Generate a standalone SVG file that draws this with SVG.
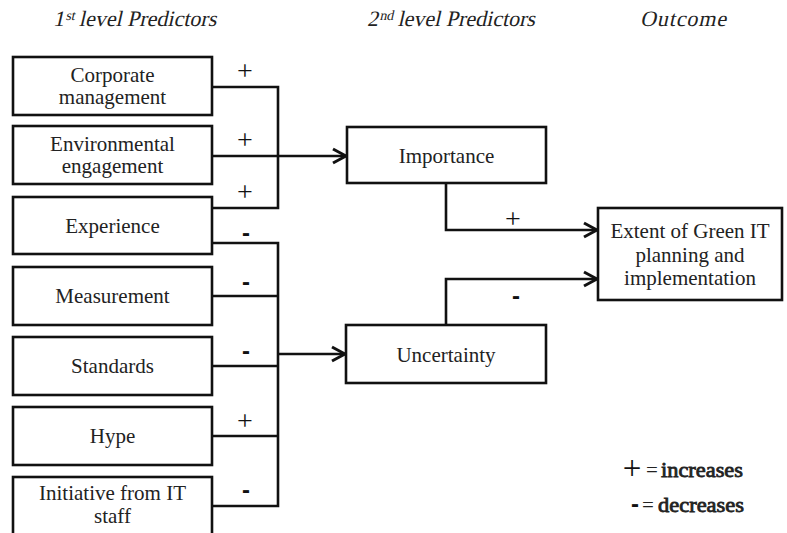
<svg xmlns="http://www.w3.org/2000/svg" width="787" height="533" viewBox="0 0 787 533">
<style>
.box{fill:#fff;stroke:#111;stroke-width:2.6}
.t{font-family:"Liberation Serif",serif;font-size:21px;fill:#222;text-anchor:middle}
.h{font-family:"Liberation Serif",serif;font-size:22px;fill:#222}
.c{fill:none;stroke:#111;stroke-width:2.6}
.p{font-family:"Liberation Serif",serif;font-size:28px;fill:#111;text-anchor:middle}
.m{font-family:"Liberation Sans",sans-serif;font-size:24px;font-weight:bold;fill:#111;text-anchor:middle}
.l{font-family:"Liberation Serif",serif;font-size:21px;fill:#222}
.b{stroke:#222;stroke-width:0.8}
</style>
<defs>
<marker id="ah" markerUnits="userSpaceOnUse" markerWidth="18" markerHeight="18" refX="15" refY="9" orient="auto">
<path d="M2,2 L15,9 L2,16" fill="none" stroke="#111" stroke-width="3"/>
</marker>
</defs>
<rect width="787" height="533" fill="#fff"/>
<g id="headers">
<g transform="translate(53,26) skewX(-13)"><text class="h" x="0" y="0">1<tspan font-size="14" dy="-6">st</tspan><tspan dy="6"> level Predictors</tspan></text></g>
<g transform="translate(367,26) skewX(-13)"><text class="h" x="0" y="0">2<tspan font-size="14" dy="-6">nd</tspan><tspan dy="6"> level Predictors</tspan></text></g>
<g transform="translate(640,26) skewX(-13)"><text class="h" x="0" y="0" textLength="86" lengthAdjust="spacing">Outcome</text></g>
</g>
<g id="connectors">
<path class="c" d="M212,87 H278 V208 H212"/>
<path class="c" d="M212,156 H346" marker-end="url(#ah)"/>
<path class="c" d="M212,243 H278 V506 H212 M212,296 H278 M212,366 H278 M212,436 H278"/>
<path class="c" d="M278,354 H345" marker-end="url(#ah)"/>
<path class="c" d="M446,183 V230 H597" marker-end="url(#ah)"/>
<path class="c" d="M446,325 V279 H597" marker-end="url(#ah)"/>
</g>
<g id="signs">
<text class="p" x="245" y="80">+</text>
<text class="p" x="245" y="149">+</text>
<text class="p" x="245" y="201">+</text>
<text class="m" x="246" y="241">-</text>
<text class="m" x="246" y="290">-</text>
<text class="m" x="246" y="359">-</text>
<text class="p" x="245" y="430">+</text>
<text class="m" x="246" y="498">-</text>
<text class="p" x="513" y="228">+</text>
<text class="m" x="516" y="304">-</text>
</g>
<g id="corporate"><rect class="box" x="13" y="57" width="199" height="58"/><text class="t" x="112.5" y="82">Corporate</text><text class="t" x="112.5" y="104">management</text></g>
<g id="environmental"><rect class="box" x="13" y="126" width="199" height="58"/><text class="t" x="112.5" y="151">Environmental</text><text class="t" x="112.5" y="173">engagement</text></g>
<g id="experience"><rect class="box" x="13" y="197" width="199" height="57"/><text class="t" x="112.5" y="233">Experience</text></g>
<g id="measurement"><rect class="box" x="13" y="267" width="199" height="58"/><text class="t" x="112.5" y="303">Measurement</text></g>
<g id="standards"><rect class="box" x="13" y="337" width="199" height="58"/><text class="t" x="112.5" y="373">Standards</text></g>
<g id="hype"><rect class="box" x="13" y="407" width="199" height="58"/><text class="t" x="112.5" y="443">Hype</text></g>
<g id="initiative"><rect class="box" x="13" y="477" width="199" height="58"/><text class="t" x="112.5" y="500">Initiative from IT</text><text class="t" x="112.5" y="523">staff</text></g>
<g id="importance"><rect class="box" x="347" y="127" width="199" height="56"/><text class="t" x="446.5" y="163">Importance</text></g>
<g id="uncertainty"><rect class="box" x="346" y="325" width="200" height="58"/><text class="t" x="446" y="362">Uncertainty</text></g>
<g id="outcome"><rect class="box" x="598" y="208" width="184" height="92"/><text class="t" x="690" y="238">Extent of Green IT</text><text class="t" x="690" y="262">planning and</text><text class="t" x="690" y="285">implementation</text></g>
<g id="legend">
<text class="p" x="632" y="479" style="font-size:33px">+</text>
<text class="l" x="646" y="477">=</text>
<text class="l b" x="661" y="477" textLength="82" lengthAdjust="spacingAndGlyphs">increases</text>
<text class="m" x="635" y="512">-</text>
<text class="l" x="642" y="512">=</text>
<text class="l b" x="658" y="512" textLength="86" lengthAdjust="spacingAndGlyphs">decreases</text>
</g>
</svg>
